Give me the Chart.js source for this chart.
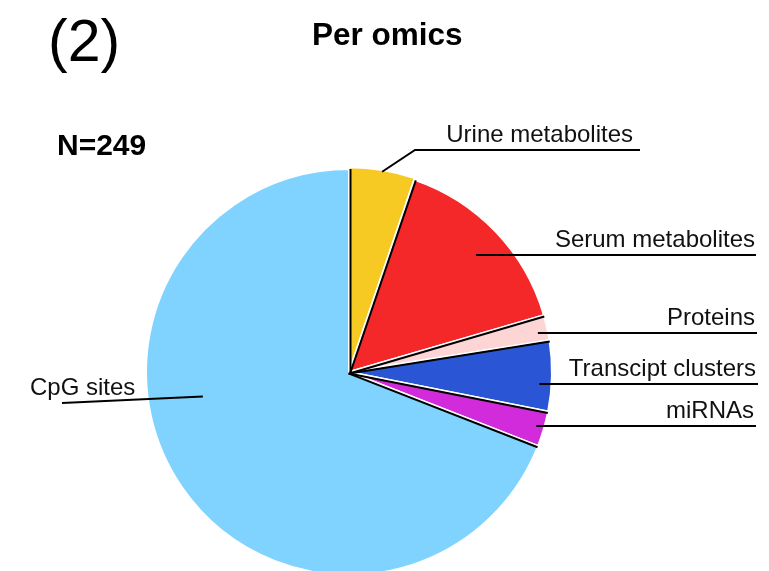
<!DOCTYPE html>
<html>
<head>
<meta charset="utf-8">
<script src="https://cdn.jsdelivr.net/npm/chart.js@4.4.1/dist/chart.umd.min.js"></script>
<style>
    body { margin: 0; background: #fff; overflow: hidden; font-family: "Liberation Sans", Arial, sans-serif; }
    #wrap { position: relative; width: 769px; height: 640px; }
    .txt { position: absolute; color: #000; white-space: nowrap; line-height: 1; }
    #panel { left: 48px; top: 12px; font-size: 59px; }
    #title { left: 312px; top: 19px; font-size: 31.5px; font-weight: bold; }
    #total { left: 57px; top: 130px; font-size: 30px; font-weight: bold; }
</style>
</head>
<body>
<div id="wrap">
    <canvas id="omicsPie"></canvas>
    <div class="txt" id="panel">(2)</div>
    <div class="txt" id="title">Per omics</div>
    <div class="txt" id="total">N=249</div>
</div>
<script>
// Data (counts, total N=249)
const omicsLabels = ["Urine metabolites", "Serum metabolites", "Proteins", "Transcipt clusters", "miRNAs", "CpG sites"];
const omicsCounts = [13, 38, 5, 14, 7, 172];
const sliceColors = ["#F6CA22", "#F42729", "#FDD5D4", "#2A56D5", "#D22BDC", "#80D3FE"];

// label placement: t = fraction along the slice, r = fraction of radius for the leader start,
// y = fixed height of the horizontal leader (null = leader start height)
const labelLayout = [
    { t: 0.5, r: 1.0, elbowX: 415, y: 150, endX: 640, textX: 633, align: "right" },
    { t: 0.52, r: 0.85, y: null, endX: 756, textX: 755, align: "right" },
    { t: 0.5, r: 0.95, y: 333, endX: 757, textX: 755, align: "right" },
    { t: 0.5, r: 0.94, y: 384, endX: 758, textX: 756, align: "right" },
    { t: 0.5, r: 0.96, y: 426, endX: 756, textX: 754, align: "right" },
    { t: 0.6, r: 0.73, y: 403, endX: 62, textX: 30, align: "left" }
];

const edgePlugin = {
    id: "edges",
    afterDatasetsDraw(chart) {
        const ctx = chart.ctx;
        const arcs = chart.getDatasetMeta(0).data;
        ctx.save();
        ctx.strokeStyle = "#000";
        ctx.lineWidth = 2;
        arcs.forEach(arc => {
            const p = arc.getProps(["x", "y", "startAngle", "outerRadius"], true);
            const a = p.startAngle;
            const ox = -Math.sin(a) * 1.5, oy = Math.cos(a) * 1.5;
            ctx.beginPath();
            ctx.moveTo(p.x + ox, p.y + oy);
            ctx.lineTo(p.x + ox + Math.cos(a) * p.outerRadius, p.y + oy + Math.sin(a) * p.outerRadius);
            ctx.stroke();
        });
        ctx.restore();
    },
    afterDraw(chart) {
        const ctx = chart.ctx;
        const arcs = chart.getDatasetMeta(0).data;
        ctx.save();
        ctx.strokeStyle = "#000";
        ctx.lineWidth = 2;
        ctx.fillStyle = "#111";
        ctx.font = "24px 'Liberation Sans', Arial, sans-serif";
        ctx.textBaseline = "alphabetic";
        arcs.forEach((arc, i) => {
            const lay = labelLayout[i];
            const p = arc.getProps(["x", "y", "startAngle", "endAngle", "outerRadius"], true);
            let ax, ay;
            if (lay.align === "right" && lay.y !== null && !lay.elbowX) {
                // start the horizontal leader inside the slice at the wanted height
                const rr = p.outerRadius * lay.r;
                const dy = lay.y - p.y;
                ax = p.x + Math.sqrt(Math.max(rr * rr - dy * dy, 0));
                ay = lay.y;
            } else {
                const ang = p.startAngle + (p.endAngle - p.startAngle) * lay.t;
                ax = p.x + Math.cos(ang) * p.outerRadius * lay.r;
                ay = p.y + Math.sin(ang) * p.outerRadius * lay.r;
            }
            const ly = lay.y === null ? ay : lay.y;
            ctx.beginPath();
            ctx.moveTo(ax, ay);
            if (lay.elbowX) ctx.lineTo(lay.elbowX, ly);
            ctx.lineTo(lay.endX, ly);
            ctx.stroke();
            ctx.textAlign = lay.align;
            ctx.fillText(omicsLabels[i], lay.textX, ly - 8);
        });
        ctx.restore();
    }
};

document.addEventListener("DOMContentLoaded", function () {
    const ctx = document.getElementById("omicsPie").getContext("2d");
    new Chart(ctx, {
        type: "pie",
        data: {
            labels: omicsLabels,
            datasets: [{
                data: omicsCounts,
                backgroundColor: sliceColors,
                borderColor: "#fff",
                borderWidth: 2,
                offset: [4, 0, 0, 0, 0, 0]
            }]
        },
        options: {
            responsive: true,
            maintainAspectRatio: false,
            animation: false,
            layout: { padding: { left: 143, right: 214, top: 165, bottom: 61 } },
            plugins: {
                legend: { display: false },
                tooltip: { enabled: false }
            }
        },
        plugins: [edgePlugin]
    });
});
</script>
</body>
</html>
